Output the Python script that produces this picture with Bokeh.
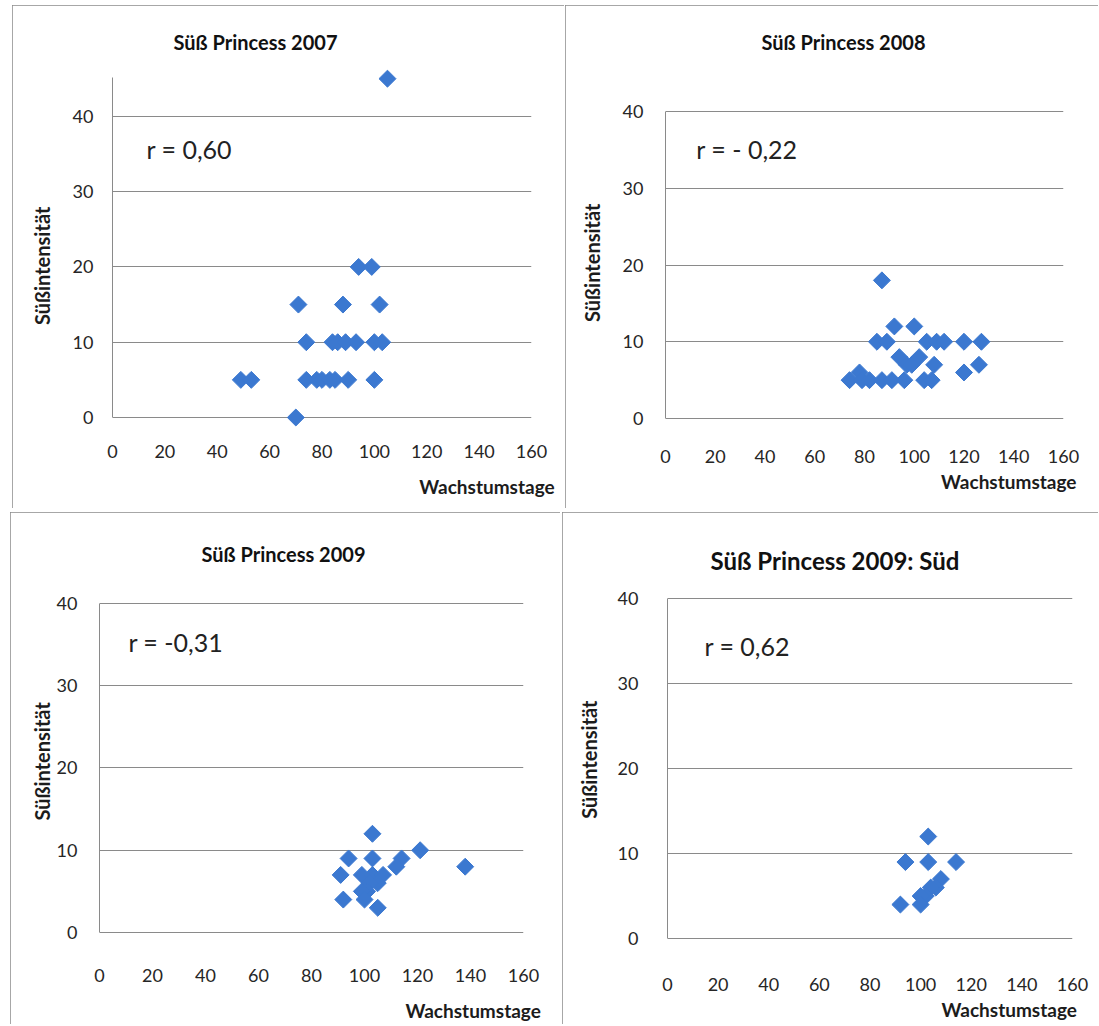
import numpy as np
from bokeh.plotting import figure
from bokeh.layouts import column, row
from bokeh.models import Label, FixedTicker, Range1d, Spacer, LinearAxis
from bokeh.embed import file_html
from bokeh.resources import INLINE

# ---------------- data ----------------
x_2007 = [105, 94, 99, 71, 88, 102, 74, 84, 86, 89, 93, 100, 103, 49, 53, 74, 78, 80, 83, 85, 90, 100, 70]
y_2007 = [45, 20, 20, 15, 15, 15, 10, 10, 10, 10, 10, 10, 10, 5, 5, 5, 5, 5, 5, 5, 5, 5, 0]

x_2008 = [87, 92, 100, 85, 89, 105, 109, 112, 120, 127, 94, 97, 99, 102, 108, 120, 126,
          74, 78, 79, 82, 87, 91, 96, 104, 107]
y_2008 = [18, 12, 12, 10, 10, 10, 10, 10, 10, 10, 8, 7, 7, 8, 7, 6, 7,
          5, 6, 5, 5, 5, 5, 5, 5, 5]

x_2009 = [103, 121, 138, 94, 103, 114, 112, 91, 99, 103, 107, 105, 102, 101, 99, 92, 100, 105]
y_2009 = [12, 10, 8, 9, 9, 9, 8, 7, 7, 7, 7, 6, 6, 5, 5, 4, 4, 3]

x_2009s = [103, 94, 103, 114, 108, 106, 104, 102, 100, 92, 100]
y_2009s = [12, 9, 9, 9, 7, 6, 6, 5, 5, 4, 4]

titles = ["Süß Princess 2007", "Süß Princess 2008", "Süß Princess 2009", "Süß Princess 2009: Süd"]
r_texts = ["r = 0,60", "r = - 0,22", "r = -0,31", "r = 0,62"]
x_ticks = [0, 20, 40, 60, 80, 100, 120, 140, 160]
y_ticks = [0, 10, 20, 30, 40]
x_title = "Wachstumstage"
y_title = "Süßintensität"

FONT = "Lato"
BLUE = "#3B78D0"
GRID = "#8a8a8a"
TXT = "#1c1c1c"


def plain_axis(ax):
    ax.major_tick_line_color = None
    ax.minor_tick_line_color = None
    ax.major_tick_out = 0
    ax.major_tick_in = 0
    ax.minor_tick_out = 0
    ax.minor_tick_in = 0


def panel(cfg, title, xs, ys, rtext):
    p = figure(width=cfg["w"], height=cfg["h"], output_backend="svg", toolbar_location=None,
               x_range=Range1d(0, 160), y_range=Range1d(*cfg["yr"]),
               min_border_left=cfg["mb"][0], min_border_right=cfg["mb"][1],
               min_border_top=cfg["mb"][2], min_border_bottom=cfg["mb"][3],
               title=title,
               styles={"outline": "1px solid #8a8a8a", "outline-offset": "-1px"})
    p.outline_line_color = None
    p.background_fill_color = "white"
    p.border_fill_color = "white"

    # chart title
    t_off, t_so, t_size = cfg["title"]
    p.title.align = "left"
    p.title.offset = t_off
    p.title.standoff = t_so
    p.title.text_font = FONT
    p.title.text_font_size = t_size
    p.title.text_font_style = "bold"
    p.title.text_color = "#111111"

    p.xgrid.grid_line_color = None
    p.ygrid.grid_line_color = GRID
    p.ygrid.grid_line_width = 1
    p.xaxis.ticker = FixedTicker(ticks=x_ticks)
    p.yaxis.ticker = FixedTicker(ticks=y_ticks)
    for ax in (p.xaxis, p.yaxis):
        plain_axis(ax)
        ax.major_label_text_font = FONT
        ax.major_label_text_font_size = "18px"
        ax.major_label_text_color = "#262626"
    p.xaxis.axis_line_color = None
    p.yaxis.axis_line_color = GRID
    p.yaxis.bounds = (0, cfg["ytop"])
    p.xaxis.major_label_standoff = cfg["xso"]
    p.yaxis.major_label_standoff = cfg["yso"]

    # axis titles, placed as a second axis carrying one label
    xl_pos, xl_so = cfg["xl"]
    xa = LinearAxis(ticker=FixedTicker(ticks=[xl_pos]),
                    major_label_overrides={xl_pos: x_title},
                    major_label_standoff=xl_so, axis_line_color=None,
                    major_label_text_font=FONT, major_label_text_font_size="19px",
                    major_label_text_font_style="bold", major_label_text_color=TXT)
    plain_axis(xa)
    p.add_layout(xa, "below")

    yl_pos, yl_so = cfg["yl"]
    ya = LinearAxis(ticker=FixedTicker(ticks=[yl_pos]),
                    major_label_overrides={yl_pos: y_title},
                    major_label_standoff=yl_so, axis_line_color=None,
                    major_label_orientation=np.pi / 2,
                    major_label_text_font=FONT, major_label_text_font_size="20px",
                    major_label_text_font_style="bold", major_label_text_color=TXT)
    plain_axis(ya)
    p.add_layout(ya, "left")

    p.scatter(xs, ys, marker="square", angle=np.pi / 4, size=12,
              fill_color=BLUE, line_color=BLUE)

    p.add_layout(Label(x=cfg["r"][0], y=cfg["r"][1], text=rtext, text_font=FONT,
                       text_font_size="25px", text_baseline="middle", text_color="#222222"))
    return p


cfg1 = dict(w=552, h=503, mb=(100, 33, 64, 80), yr=(-1.46, 46.22), ytop=45.2,
            xso=16, yso=19, title=(61, 32, "20px"), r=(13.0, 35.6),
            xl=(143, 14), yl=(28, 27))
cfg2 = dict(w=533, h=503, mb=(97, 35, 64, 80), yr=(-1.30, 45.47), ytop=40,
            xso=21, yso=22, title=(96, 32, "20px"), r=(12.4, 35.05),
            xl=(138, 4), yl=(28, 27))
cfg3 = dict(w=550, h=512, mb=(89, 37, 78, 74), yr=(-2.19, 41.58), ytop=40,
            xso=18, yso=22, title=(102, 50, "20px"), r=(10.9, 35.26),
            xl=(141, 14), yl=(28, 11))
cfg4 = dict(w=536, h=512, mb=(104, 26, 78, 74), yr=(-1.40, 40.93), ytop=40,
            xso=27, yso=29, title=(43, 32, "24px"), r=(14.6, 34.4),
            xl=(135, 4), yl=(28, 25))

p1 = panel(cfg1, titles[0], x_2007, y_2007, r_texts[0])
p2 = panel(cfg2, titles[1], x_2008, y_2008, r_texts[1])
p3 = panel(cfg3, titles[2], x_2009, y_2009, r_texts[2])
p4 = panel(cfg4, titles[3], x_2009s, y_2009s, r_texts[3])

layout = column(
    Spacer(height=5),
    row(Spacer(width=12), p1, Spacer(width=1), p2),
    Spacer(height=4),
    row(Spacer(width=10), p3, Spacer(width=2), p4),
)
open("out.html", "w").write(file_html(layout, INLINE))
